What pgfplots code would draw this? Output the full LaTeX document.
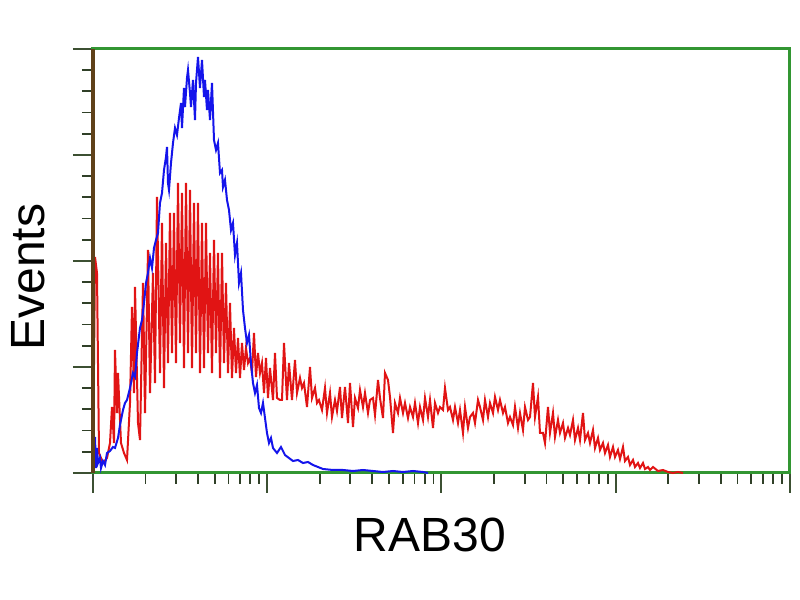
\documentclass[border=0pt]{standalone}
\usepackage{pgfplots}
\pgfplotsset{compat=1.18}
\usepackage{fontspec}
\setmainfont{Liberation Sans}
\definecolor{frameg}{RGB}{50,150,50}
\definecolor{leftbr}{RGB}{95,65,25}
\definecolor{tickc}{RGB}{60,80,50}
\definecolor{cblue}{RGB}{20,20,235}
\definecolor{cred}{RGB}{225,20,20}
\begin{document}
\begin{tikzpicture}
\path[use as bounding box] (-46.5pt,-63.5pt) rectangle (353.5pt,236.5pt);
\begin{axis}[
  scale only axis, width=348.5pt, height=212pt,
  xmin=0, xmax=697, ymin=0, ymax=424,
  axis line style={frameg, line width=1.5pt},
  xtick={0,174.25,348.5,522.75,697},
  minor xtick={52.45,83.14,104.91,121.80,135.59,147.26,157.37,166.28,
    226.70,257.39,279.16,296.05,309.84,321.51,331.62,340.53,
    400.95,431.64,453.41,470.30,484.09,495.76,505.87,514.78,
    575.20,605.89,627.66,644.55,658.34,670.01,680.12,689.03},
  ytick={0,106,212,318,424},
  minor ytick={21.2,42.4,63.6,84.8,127.2,148.4,169.6,190.8,233.2,254.4,275.6,296.8,339.2,360.4,381.6,402.8},
  xticklabels={}, yticklabels={},
  xtick pos=bottom, ytick pos=left,
  tick align=outside,
  major tick length=10pt, minor tick length=5.5pt,
  every major tick/.style={tickc, line width=1pt},
  every minor tick/.style={tickc!80!black, line width=0.9pt},
  xlabel={RAB30}, ylabel={Events},
  label style={font=\fontsize{24}{28}\selectfont, black},
  xlabel style={at={(axis description cs:0.4835,-0.186)}, anchor=base},
  ylabel style={at={(axis description cs:-0.0689,0.462)}, anchor=base, rotate=0},
  clip=false,
]
\addplot[cred, line width=1pt] coordinates {
(0,0)(2,216)(4,200)(6,20)(10,10)(14,15)(17,30)(19,66)(21,30)(22,123)(24,60)(25,100)
(28,30)(31,20)(34,13)(37,70)(39,166)(41,80)(42,186)(45,50)(47,33)(50,190)(52,60)
(55,223)(57,80)(60,200)(62,90)(64,276)(67,100)(69,250)(71,85)(73,230)(75,110)
(77,260)(79,120)(81,260)(83,110)(85,290)(87,130)(89,280)(91,105)(93,290)(95,120)
(97,283)(99,105)(101,270)(103,120)(105,270)(107,100)(109,250)(111,105)(113,250)
(115,120)(117,220)(119,100)(121,233)(123,120)(125,220)(127,95)(129,220)(131,110)
(133,190)(135,100)(137,170)(139,95)(141,145)(143,100)(145,135)(147,95)(149,130)
(151,103)(153,125)(155,110)(157,115)(159,100)(161,140)(163,96)(165,120)(167,100)
(169,110)(171,80)(173,115)(175,75)(177,105)(180,73)(182,120)(184,75)(187,73)
(189,73)(191,130)(194,73)(196,110)(199,73)(202,113)(204,80)(207,95)(209,85)
(211,90)(214,66)(217,106)(219,75)(222,85)(224,70)(226,73)(229,63)(232,85)(234,60)
(237,80)(239,56)(242,73)(244,62)(247,86)(249,55)(252,86)(255,50)(257,90)(260,46)
(262,75)(265,65)(267,83)(270,66)(272,80)(275,60)(277,73)(280,75)(282,58)(285,93)
(287,75)(290,55)(292,100)(295,93)(297,76)(300,40)(302,70)(305,60)(307,75)(310,60)
(312,70)(315,55)(317,66)(320,56)(322,70)(325,50)(327,66)(330,53)(332,75)(335,56)
(337,73)(340,45)(342,70)(345,60)(347,66)(350,63)(352,85)(355,63)(357,66)(360,53)
(362,66)(365,50)(367,63)(370,40)(372,66)(375,45)(377,56)(380,60)(382,50)(385,73)
(387,66)(390,53)(392,73)(395,56)(397,70)(400,60)(402,76)(405,63)(407,73)(410,60)
(412,66)(415,50)(417,56)(420,48)(422,66)(425,45)(427,60)(430,43)(432,66)(435,53)
(437,56)(440,90)(442,56)(445,76)(447,40)(450,40)(452,30)(455,66)(457,40)(460,60)
(462,36)(465,53)(467,40)(470,50)(472,35)(475,45)(477,38)(480,53)(482,33)(485,45)
(487,33)(490,60)(492,33)(495,40)(497,30)(500,43)(502,25)(505,35)(507,23)(510,30)
(512,20)(515,28)(517,16)(520,26)(522,16)(525,23)(527,14)(530,26)(532,12)(535,16)
(537,8)(540,13)(542,6)(545,10)(547,5)(550,10)(552,4)(555,6)(557,3)(560,6)(565,2)
(570,3)(575,1)(580,0)(585,1)(590,0)
};
\addplot[cblue, line width=1pt] coordinates {
(0,0)(1,20)(2,36)(3,5)(4,25)(5,10)(7,15)(8,5)(10,12)(12,8)(14,20)(17,22)(20,26)
(22,25)(25,35)(27,48)(30,63)(32,70)(34,73)(37,85)(40,100)(42,96)(44,120)(47,145)
(49,153)(51,170)(53,190)(55,200)(57,215)(59,205)(61,225)(63,233)(65,240)(67,270)
(69,280)(71,303)(73,316)(74,326)(75,290)(76,283)(78,310)(80,330)(82,345)(84,338)
(86,355)(88,370)(89,345)(91,385)(92,366)(94,395)(95,403)(97,380)(98,366)(100,393)
(102,353)(103,390)(105,416)(107,385)(109,413)(111,376)(112,393)(114,363)(115,383)
(117,353)(119,390)(121,333)(123,323)(125,330)(127,300)(129,303)(130,286)(132,293)
(134,273)(136,263)(138,243)(140,250)(142,218)(144,230)(146,190)(148,200)(150,163)
(152,145)(154,130)(156,138)(158,110)(160,90)(162,80)(164,88)(166,65)(168,60)
(170,70)(172,55)(174,40)(176,30)(178,35)(180,25)(184,20)(188,26)(192,18)(196,15)
(200,12)(205,13)(210,10)(215,11)(220,8)(225,6)(230,4)(240,3)(250,3)(260,2)(270,3)
(280,2)(290,1)(300,2)(310,1)(320,2)(330,1)(335,0)
};
\draw[leftbr, line width=2pt] (rel axis cs:0,0) -- (rel axis cs:0,1);
\end{axis}
\end{tikzpicture}
\end{document}
